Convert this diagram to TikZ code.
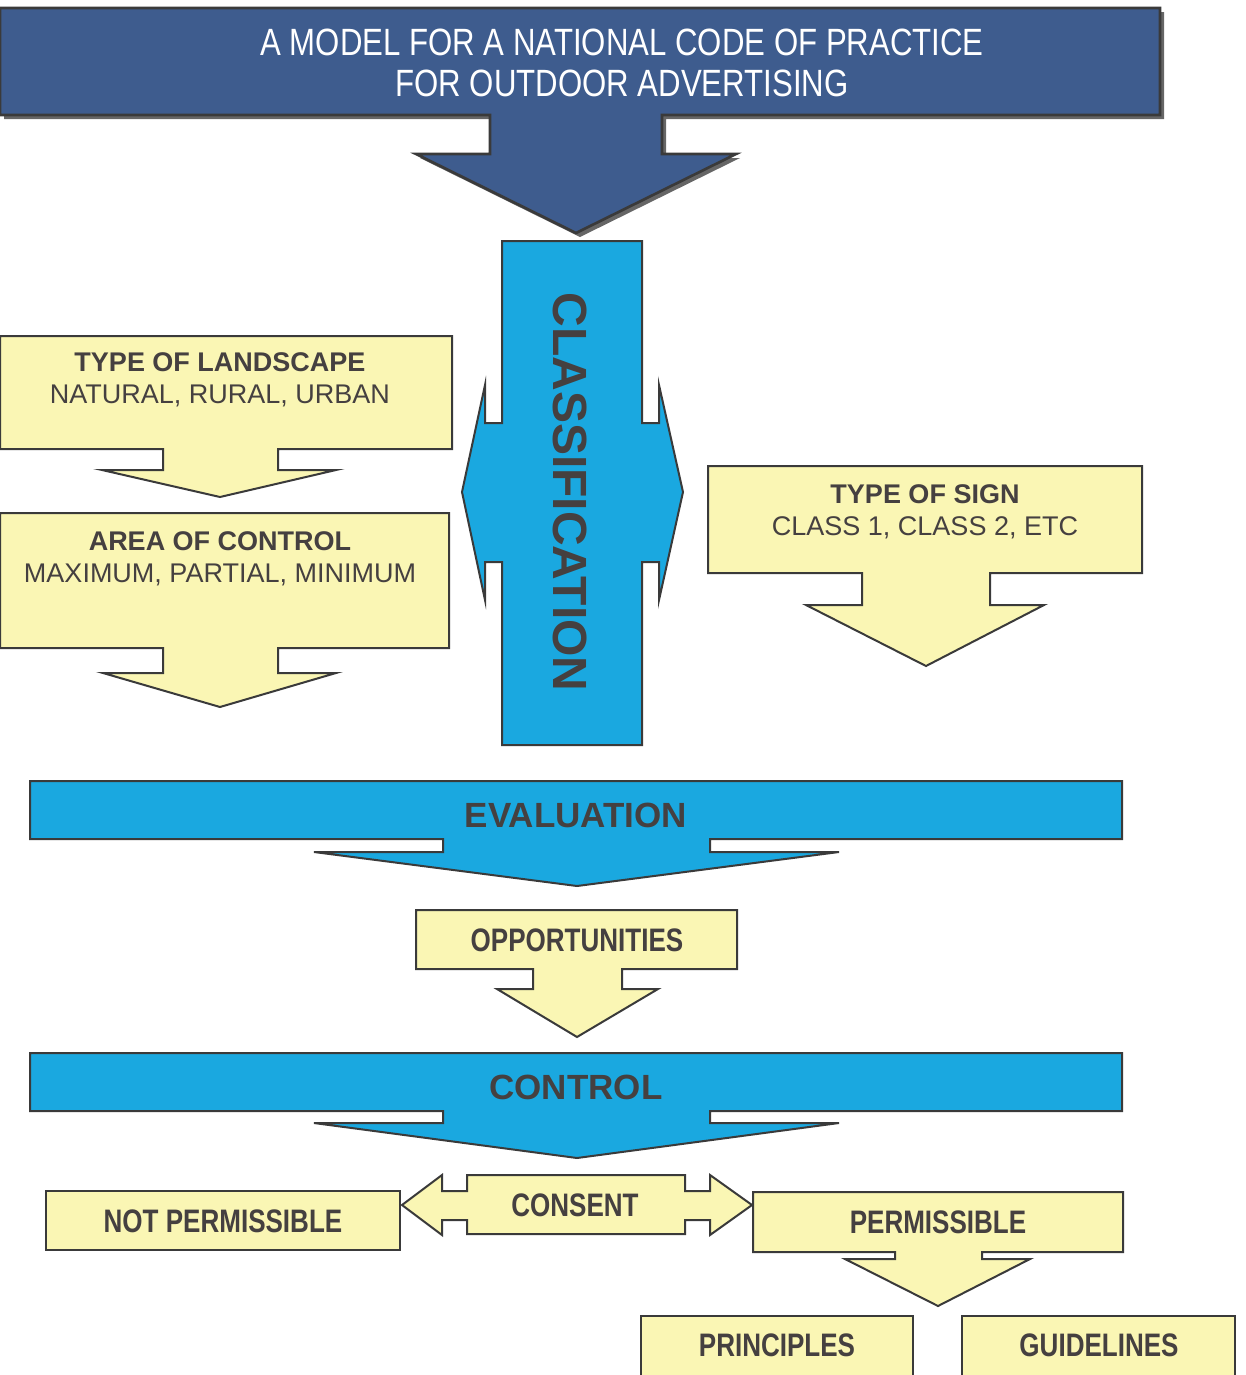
\documentclass[tikz,border=0pt]{standalone}
\usepackage{fontspec}
\setmainfont{Liberation Sans}
\newfontfamily\narrowfont[FakeStretch=0.82]{Liberation Sans}
\newfontfamily\narrowbold[FakeStretch=0.8]{Liberation Sans}

\definecolor{titleblue}{HTML}{3E5C8E}
\definecolor{skyblue}{HTML}{1AA8E0}
\definecolor{paleyellow}{HTML}{FAF6B4}
\definecolor{edgegray}{HTML}{3A3A3A}
\definecolor{textgray}{HTML}{454040}

\tikzset{
  yellowcallout/.style={draw=edgegray, fill=paleyellow, line width=1.5pt},
  bluecallout/.style={draw=edgegray, fill=skyblue, line width=1.5pt},
  boxtext/.style={inner sep=0pt, text=textgray, align=center, anchor=north,
    font=\fontsize{20.25}{24}\selectfont},
  labeltext/.style={inner sep=0pt, text=textgray,
    font=\narrowbold\bfseries\fontsize{24.4}{28}\selectfont},
  bartext/.style={inner sep=0pt, text=textgray,
    font=\bfseries\fontsize{26.25}{30}\selectfont}
}

\begin{document}
\begin{tikzpicture}[x=0.75pt,y=0.75pt,yscale=-1,xscale=1]
    \useasboundingbox (0,0) rectangle (1246,1375);
    %Shape: Title Arrow (shadow)
    \fill[black!60] (4,12) -- (1164,12) -- (1164,119) -- (666,119) -- (666,158) -- (740,158) -- (580,237) -- (420,158) -- (494,158) -- (494,119) -- (4,119) -- cycle ;
    %Shape: Title Arrow
    \draw[draw=edgegray, fill=titleblue, line width=2pt] (0,8) -- (1160,8) -- (1160,115) -- (662,115) -- (662,154) -- (736,154) -- (576,233) -- (416,154) -- (490,154) -- (490,115) -- (0,115) -- cycle ;
    %Shape: Classification Cross
    \draw[bluecallout] (502,241) -- (642,241) -- (642,423) -- (659,423) -- (659,385) -- (683,492) -- (659,600) -- (659,562) -- (642,562) -- (642,745) -- (502,745) -- (502,562) -- (485,562) -- (485,600) -- (462,492) -- (485,385) -- (485,423) -- (502,423) -- cycle ;
    %Shape: Landscape Callout
    \draw[yellowcallout] (0,336) -- (452,336) -- (452,449) -- (278,449) -- (278,470) -- (336,470) -- (220,497) -- (102,470) -- (163,470) -- (163,449) -- (0,449) -- cycle ;
    %Shape: Area Callout
    \draw[yellowcallout] (0,513) -- (449,513) -- (449,648) -- (278,648) -- (278,673) -- (336,673) -- (220,707) -- (103,673) -- (163,673) -- (163,648) -- (0,648) -- cycle ;
    %Shape: Sign Callout
    \draw[yellowcallout] (708,466) -- (1142,466) -- (1142,573) -- (990,573) -- (990,605) -- (1044,605) -- (926,666) -- (806,605) -- (862,605) -- (862,573) -- (708,573) -- cycle ;
    %Shape: Evaluation Bar
    \draw[bluecallout] (30,781) -- (1122,781) -- (1122,839) -- (710,839) -- (710,852) -- (839,852) -- (577,886) -- (314,852) -- (443,852) -- (443,839) -- (30,839) -- cycle ;
    %Shape: Opportunities Callout
    \draw[yellowcallout] (416,910) -- (737,910) -- (737,969) -- (622,969) -- (622,989) -- (658,989) -- (577,1037) -- (497,989) -- (533,989) -- (533,969) -- (416,969) -- cycle ;
    %Shape: Control Bar
    \draw[bluecallout] (30,1053) -- (1122,1053) -- (1122,1111) -- (710,1111) -- (710,1123) -- (839,1123) -- (577,1158) -- (314,1123) -- (443,1123) -- (443,1111) -- (30,1111) -- cycle ;
    %Shape: Not Permissible Box
    \draw[yellowcallout] (46,1191) rectangle (400,1250) ;
    %Shape: Consent Double Arrow
    \draw[yellowcallout] (467,1175) -- (685,1175) -- (685,1191) -- (710,1191) -- (710,1175) -- (752,1205) -- (710,1235) -- (710,1220) -- (685,1220) -- (685,1234) -- (467,1234) -- (467,1220) -- (442,1220) -- (442,1235) -- (402,1205) -- (442,1175) -- (442,1191) -- (467,1191) -- cycle ;
    %Shape: Permissible Callout
    \draw[yellowcallout] (753,1192) -- (1123,1192) -- (1123,1252) -- (982,1252) -- (982,1259) -- (1030,1259) -- (938,1306) -- (845,1259) -- (895,1259) -- (895,1252) -- (753,1252) -- cycle ;
    %Shape: Principles Box
    \draw[yellowcallout] (641,1316) rectangle (913,1380) ;
    %Shape: Guidelines Box
    \draw[yellowcallout] (962,1316) rectangle (1235,1380) ;

    % Text Node
    \node[inner sep=0pt, text=white, align=center, font=\narrowfont\fontsize{28.5}{30.75}\selectfont] (title) at (622,63) {A MODEL FOR A NATIONAL CODE OF PRACTICE\\FOR OUTDOOR ADVERTISING};
    % Text Node
    \node[bartext, rotate=-90, font=\bfseries\fontsize{36}{40}\selectfont] (classification) at (570,492) {CLASSIFICATION};
    % Text Node
    \node[boxtext] (landscape) at (220,352) {\textbf{TYPE OF LANDSCAPE}\\NATURAL, RURAL, URBAN};
    % Text Node
    \node[boxtext] (area) at (220,531) {\textbf{AREA OF CONTROL}\\MAXIMUM, PARTIAL, MINIMUM};
    % Text Node
    \node[boxtext] (sign) at (925,484) {\textbf{TYPE OF SIGN}\\CLASS 1, CLASS 2, ETC};
    % Text Node
    \node[bartext] (evaluation) at (576,815) {EVALUATION};
    % Text Node
    \node[labeltext] (opportunities) at (577,940) {OPPORTUNITIES};
    % Text Node
    \node[bartext] (control) at (576,1087) {CONTROL};
    % Text Node
    \node[labeltext] (notpermissible) at (223,1221) {NOT PERMISSIBLE};
    % Text Node
    \node[labeltext] (consent) at (575,1205) {CONSENT};
    % Text Node
    \node[labeltext] (permissible) at (938,1222) {PERMISSIBLE};
    % Text Node
    \node[labeltext] (principles) at (777,1345) {PRINCIPLES};
    % Text Node
    \node[labeltext] (guidelines) at (1099,1345) {GUIDELINES};
\end{tikzpicture}
\end{document}
